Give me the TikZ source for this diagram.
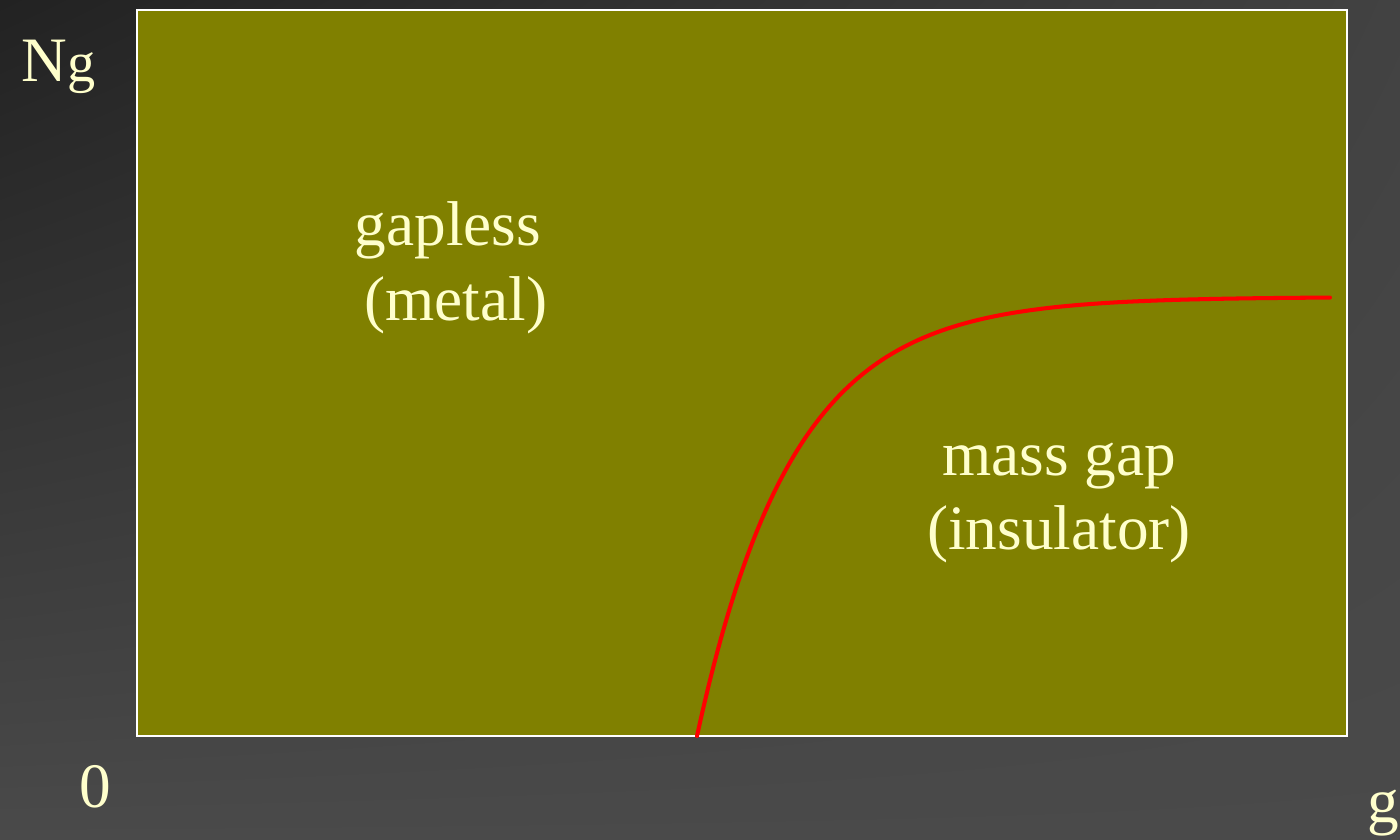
\documentclass[tikz,border=0pt]{standalone}
\usepackage{fontspec}
\setmainfont{Liberation Serif}
\usepackage{tikz}
\usetikzlibrary{calc,shadings}
\usepackage{xcolor}
\definecolor{bgdark}{HTML}{222222}
\definecolor{bgmid}{HTML}{424242}
\definecolor{bglight}{HTML}{4A4A4A}
\definecolor{olivebox}{HTML}{808000}
\definecolor{cream}{HTML}{FFFFCC}

\begin{document}
\begin{tikzpicture}[
    lbl/.style={text=cream,font=\fontsize{18}{21.3}\selectfont,inner sep=0pt},
    region/.style={lbl,align=center},
    border/.style={draw=white,line width=.6pt,fill=olivebox},
    curve/.style={red,line width=1.15pt,line cap=round}
  ]
    \useasboundingbox (0,0) rectangle (14,8.4);
    \shade[upper left=bgdark,upper right=bgmid,lower left=bglight,lower right=bglight] (0,0) rectangle (14,8.4);
    \draw[border] (1.37,1.04) rectangle (13.47,8.30);
    % axis labels
    \node[lbl,anchor=base west] (ng) at (0.21,7.58) {N\fontsize{16}{18}\selectfont g};
    \node[lbl,anchor=base] (zero) at (0.95,0.32) {0};
    \node[lbl,anchor=base west] (gax) at (13.67,0.18) {g};
    % phases
    \node[region] (metal) at (4.48,5.72) {gapless\\~(metal)};
    \node[region] (insul) at (10.59,3.37) {mass gap\\(insulator)};
    % boundary, starts on the g axis at (c0)
    \coordinate (c0) at (6.97,1.04);
    \draw[curve,shift={(c0)}] plot[domain=0:6.33,samples=150,smooth] (\x,{4.39*(1-exp(-1.05*\x))});
  \end{tikzpicture}
\end{document}
